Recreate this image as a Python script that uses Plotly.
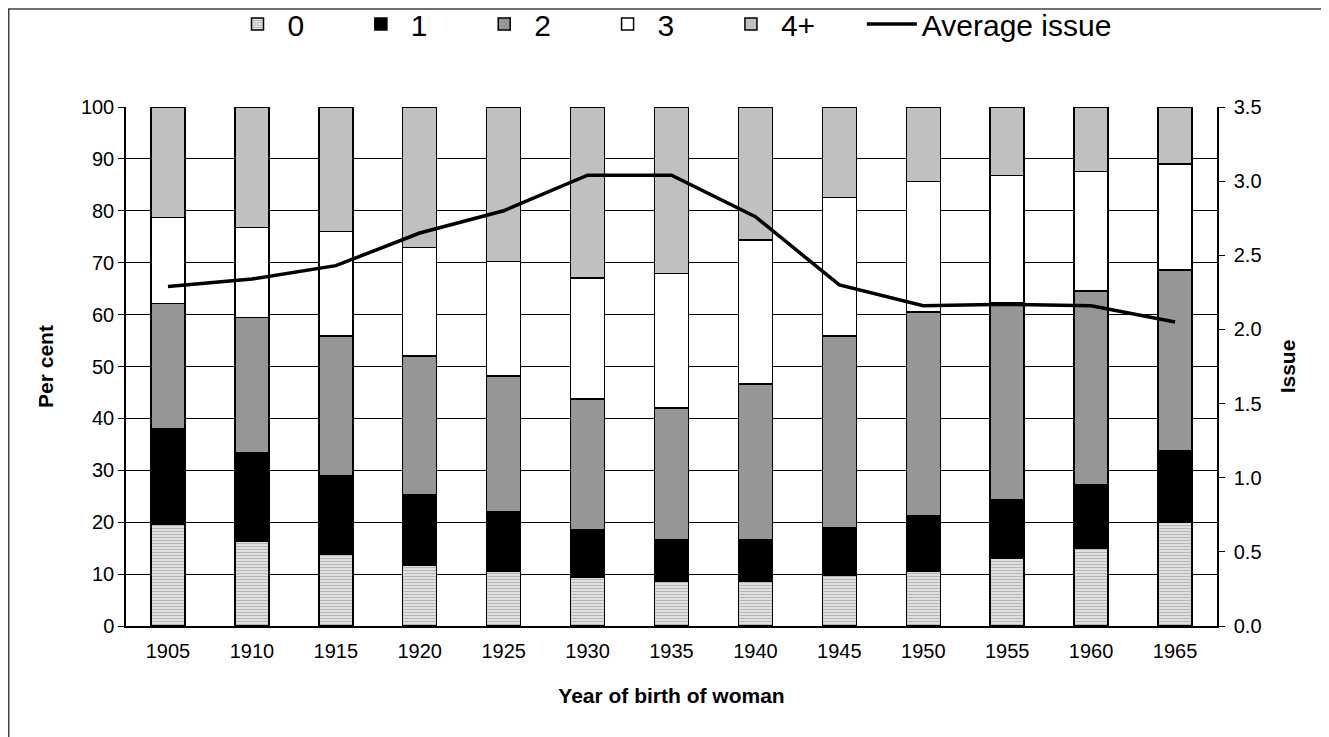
import plotly.graph_objects as go

years = ["1905", "1910", "1915", "1920", "1925", "1930", "1935", "1940", "1945", "1950", "1955", "1960", "1965"]
issue0 = [19.6, 16.4, 13.8, 11.8, 10.6, 9.4, 8.6, 8.6, 9.8, 10.6, 13.0, 15.0, 20.0]
issue1 = [18.4, 17.0, 15.2, 13.4, 11.5, 9.2, 8.1, 8.1, 9.1, 10.7, 11.4, 12.2, 13.7]
issue2 = [24.1, 26.0, 26.9, 26.8, 26.1, 25.1, 25.3, 29.9, 37.0, 39.2, 37.9, 37.3, 34.9]
issue3 = [16.6, 17.4, 20.1, 20.9, 22.0, 23.4, 25.9, 27.8, 26.7, 25.1, 24.5, 23.1, 20.4]
issue4 = [21.3, 23.2, 24.0, 27.1, 29.8, 32.9, 32.1, 25.6, 17.4, 14.4, 13.2, 12.4, 11.0]
avg_issue = [2.29, 2.34, 2.43, 2.65, 2.80, 3.04, 3.04, 2.76, 2.30, 2.16, 2.17, 2.16, 2.05]
series_names = ["0", "1", "2", "3", "4+", "Average issue"]

FONT = "Liberation Sans, Arial, sans-serif"
line_style = dict(color="black", width=1.5)
PAD = "\u00a0" * 5

fig = go.Figure()
fig.add_trace(go.Bar(x=years, y=issue0, name=series_names[0] + PAD,
                     marker=dict(color="#e4e4e4", line=line_style,
                                 pattern=dict(shape="-", fgcolor="#8a8a8a", bgcolor="#e4e4e4", size=3, solidity=0.4))))
fig.add_trace(go.Bar(x=years, y=issue1, name=series_names[1] + PAD, marker=dict(color="#000000", line=line_style)))
fig.add_trace(go.Bar(x=years, y=issue2, name=series_names[2] + PAD, marker=dict(color="#969696", line=line_style)))
fig.add_trace(go.Bar(x=years, y=issue3, name=series_names[3] + PAD, marker=dict(color="#ffffff", line=line_style)))
fig.add_trace(go.Bar(x=years, y=issue4, name=series_names[4] + PAD, marker=dict(color="#c0c0c0", line=line_style)))
fig.add_trace(go.Scatter(x=years, y=avg_issue, name=series_names[5], mode="lines",
                         line=dict(color="black", width=3.5), yaxis="y2"))

W, H = 1321, 729
L, T = 118, 99
pw, ph = 1091, 519
R, B = W - L - pw, H - T - ph

fig.update_layout(
    width=W, height=H,
    margin=dict(l=L, r=R, t=T, b=B, autoexpand=False),
    barmode="stack", bargap=0.595,
    paper_bgcolor="white", plot_bgcolor="white",
    font=dict(family=FONT, size=20, color="black"),
    showlegend=True,
    legend=dict(orientation="h", x=(672 - 8 - L) / pw, xanchor="center", y=1 + (T - 16) / ph, yanchor="middle",
                font=dict(size=30), traceorder="normal", itemwidth=50, bgcolor="rgba(0,0,0,0)"),
    xaxis=dict(type="category", showline=True, linecolor="black", linewidth=1.5,
               ticks="", tickfont=dict(size=20), ticklabelstandoff=6,
               title=dict(text="<b>Year of birth of woman</b>", font=dict(size=21), standoff=28)),
    yaxis=dict(range=[0, 100], dtick=10, showgrid=True, gridcolor="black", gridwidth=1,
               showline=True, linecolor="black", linewidth=1.5, ticks="outside", ticklen=6,
               tickcolor="black", tickfont=dict(size=20), zeroline=False,
               title=dict(text="<b>Per cent</b>", font=dict(size=21), standoff=22)),
    yaxis2=dict(range=[0, 3.5], dtick=0.5, tickformat=".1f", overlaying="y", side="right",
                showgrid=False, showline=True, linecolor="black", linewidth=1.5, ticks="outside",
                ticklen=6, tickcolor="black", tickfont=dict(size=20), zeroline=False, ticklabelstandoff=5,
                title=dict(text="<b>Issue</b>", font=dict(size=21), standoff=20)),
    shapes=[
        dict(type="line", xref="paper", yref="paper",
             x0=-L / pw, x1=1 + R / pw, y0=1 + (T - 1) / ph, y1=1 + (T - 1) / ph,
             line=dict(color="#404040", width=1.5)),
        dict(type="line", xref="paper", yref="paper",
             x0=-(L - 0.75) / pw, x1=-(L - 0.75) / pw, y0=-B / ph, y1=1 + (T - 1) / ph,
             line=dict(color="#404040", width=1.5)),
    ],
)

fig.write_html("out.html")
